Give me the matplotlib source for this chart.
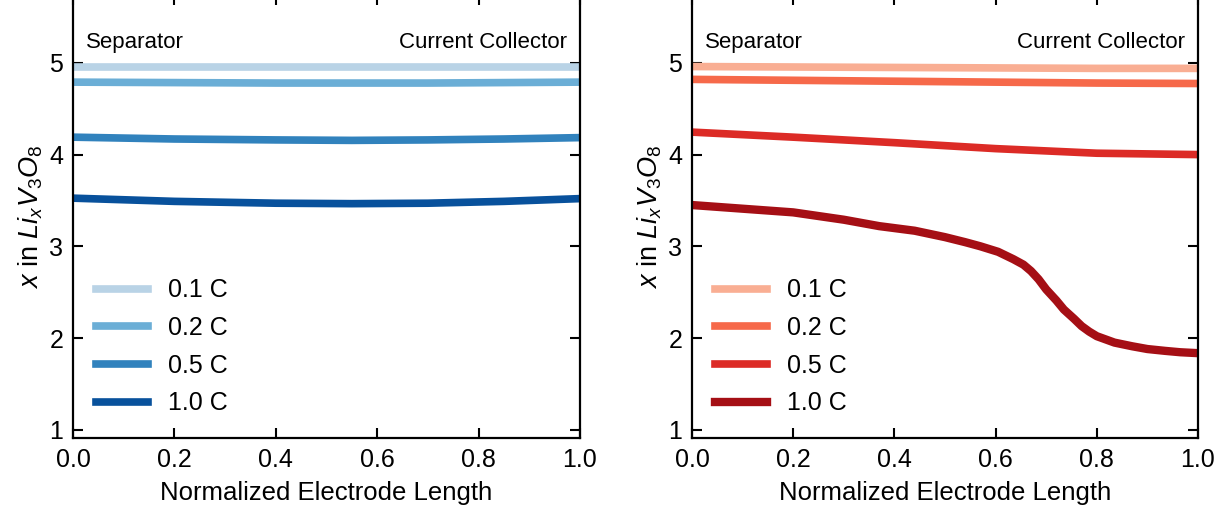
import matplotlib
matplotlib.use("Agg")
import matplotlib.pyplot as plt

plt.rcParams['font.family'] = ['Liberation Sans', 'DejaVu Sans']
plt.rcParams['mathtext.fontset'] = 'custom'
plt.rcParams['mathtext.rm'] = 'Liberation Sans'
plt.rcParams['mathtext.it'] = 'Liberation Sans:italic'
plt.rcParams['lines.solid_joinstyle'] = 'round'

rates = ["0.1 C", "0.2 C", "0.5 C", "1.0 C"]

# Left panel (blue)
xb = [0.0, 0.2, 0.4, 0.55, 0.7, 0.85, 1.0]
blue_01 = [4.96, 4.96, 4.96, 4.96, 4.96, 4.96, 4.96]
blue_02 = [4.79, 4.785, 4.78, 4.78, 4.78, 4.785, 4.79]
blue_05 = [4.19, 4.17, 4.16, 4.155, 4.16, 4.17, 4.185]
blue_10 = [3.525, 3.49, 3.47, 3.465, 3.47, 3.49, 3.52]
blue_colors = ['#b9d3e6', '#6baed6', '#3182bd', '#08519c']

# Right panel (red)
xr_flat = [0.0, 0.2, 0.4, 0.6, 0.8, 1.0]
red_01 = [4.96, 4.955, 4.95, 4.945, 4.94, 4.94]
red_02 = [4.82, 4.81, 4.80, 4.79, 4.78, 4.775]
red_05 = [4.245, 4.19, 4.13, 4.065, 4.015, 4.0]
xr = [0.0, 0.1, 0.2, 0.3, 0.37, 0.44, 0.5, 0.54, 0.57, 0.605, 0.635, 0.655, 0.67,
      0.685, 0.70, 0.72, 0.735, 0.755, 0.77, 0.785, 0.80, 0.82, 0.835, 0.87, 0.9,
      0.935, 0.965, 1.0]
red_10 = [3.45, 3.41, 3.37, 3.29, 3.22, 3.17, 3.10, 3.045, 3.00, 2.94, 2.86, 2.80,
          2.73, 2.64, 2.53, 2.41, 2.31, 2.21, 2.13, 2.07, 2.02, 1.98, 1.95, 1.91,
          1.88, 1.86, 1.845, 1.835]
red_colors = ['#f9ae93', '#f6694a', '#dc2b26', '#a50f15']

fig = plt.figure(figsize=(12.15, 5.08), dpi=100)
ax1 = fig.add_axes([73/1215, 1-438/508, (580-73)/1215, (438+5)/508])
ax2 = fig.add_axes([692/1215, 1-438/508, (1198-692)/1215, (438+5)/508])

def style(ax):
    ax.set_xlim(0, 1)
    ax.set_ylim(0.91, 5.74)
    ax.set_xticks([0, 0.2, 0.4, 0.6, 0.8, 1.0])
    ax.set_xticklabels(['0.0', '0.2', '0.4', '0.6', '0.8', '1.0'])
    ax.set_yticks([1, 2, 3, 4, 5])
    ax.tick_params(direction='in', length=7, width=1.5, labelsize=18,
                   top=True, right=True, pad=7)
    for s in ax.spines.values():
        s.set_linewidth(1.6)
    ax.set_xlabel('Normalized Electrode Length', fontsize=18.5, labelpad=7)
    ax.set_ylabel(r'$x$ in $Li_xV_3O_8$', fontsize=19.5, labelpad=3)
    ax.text(0.025, 5.22, 'Separator', fontsize=16, ha='left', va='center')
    ax.text(0.975, 5.22, 'Current Collector', fontsize=16, ha='right', va='center')
    ax.legend(loc='lower left', bbox_to_anchor=(0.0, 0.0), frameon=False,
              fontsize=18, handlelength=2.1, handletextpad=0.8, labelspacing=0.55)

ax1.plot(xb, blue_01, color=blue_colors[0], lw=5.5, label=rates[0])
ax1.plot(xb, blue_02, color=blue_colors[1], lw=5.5, label=rates[1])
ax1.plot(xb, blue_05, color=blue_colors[2], lw=5.5, label=rates[2])
ax1.plot(xb, blue_10, color=blue_colors[3], lw=5.5, label=rates[3])
style(ax1)

ax2.plot(xr_flat, red_01, color=red_colors[0], lw=5.5, label=rates[0])
ax2.plot(xr_flat, red_02, color=red_colors[1], lw=5.5, label=rates[1])
ax2.plot(xr_flat, red_05, color=red_colors[2], lw=5.5, label=rates[2])
ax2.plot(xr, red_10, color=red_colors[3], lw=6, label=rates[3])
style(ax2)

fig.savefig('out.png', dpi=100)
